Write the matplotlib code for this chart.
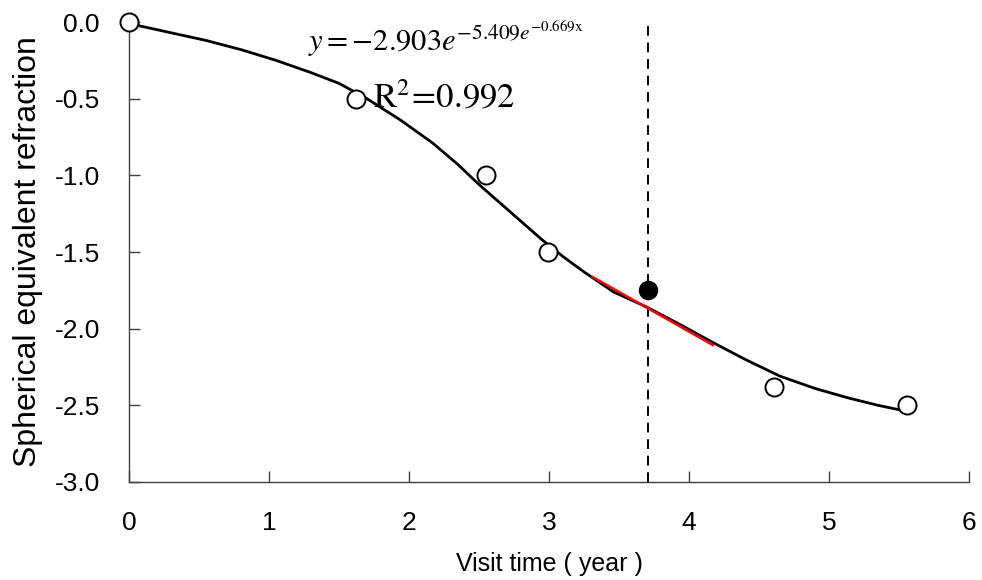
import numpy as np
import matplotlib
matplotlib.use('Agg')
import matplotlib.pyplot as plt

plt.rcParams['font.family'] = ['Liberation Sans', 'DejaVu Sans']
plt.rcParams['mathtext.fontset'] = 'stix'

# observed visits
visit_x = [0.0, 1.62, 2.55, 2.99, 4.61, 5.56]
visit_y = [0.0, -0.50, -1.00, -1.50, -2.38, -2.50]

# highlighted visit
mark_x = 3.71
mark_y = -1.75

# fitted curve
fit_x = [0.0, 0.3, 0.55, 0.8, 1.05, 1.3, 1.5, 1.7, 1.94, 2.17, 2.35, 2.5, 2.65, 2.8,
         2.95, 3.1, 3.25, 3.46, 3.70, 3.95, 4.17, 4.4, 4.65, 4.9, 5.13, 5.35, 5.56]
fit_y = [-0.01, -0.07, -0.12, -0.18, -0.25, -0.33, -0.40, -0.50, -0.64, -0.79, -0.93,
         -1.06, -1.18, -1.30, -1.42, -1.53, -1.63, -1.76, -1.86, -1.98, -2.09, -2.20,
         -2.31, -2.39, -2.45, -2.50, -2.54]

# tangent segment
tan_x = [3.31, 4.17]
tan_y = [-1.663, -2.107]

fig = plt.figure(figsize=(9.82, 5.8), dpi=100)
ax = fig.add_axes([0.1314, 0.169, 0.8554, 0.793])

ax.plot(fit_x, fit_y, color='black', lw=2, zorder=3, clip_on=False)
ax.plot(tan_x, tan_y, color='red', lw=1.8, zorder=4)
ax.plot([mark_x, mark_x], [-3.0, 0.0], color='black', lw=1.4, ls=(0, (5, 3.5)), zorder=2, clip_on=False)
ax.plot(visit_x, visit_y, 'o', mfc='white', mec='black', mew=1.4, ms=13, zorder=5, clip_on=False)
ax.plot([mark_x], [mark_y], 'o', color='black', ms=13, zorder=6)

ax.text(1.28, -0.196, r'$y=-2.903e^{-5.409e^{-0.669\mathrm{x}}}$', fontsize=22, va='baseline')
ax.text(1.74, -0.555, r'$\mathrm{R}^2\!=\!0.992$', fontsize=25, va='baseline')

ax.set_xlim(0, 6)
ax.set_ylim(-3.0, 0.0)
ax.set_xticks(range(0, 7))
ax.set_yticks(np.arange(-3.0, 0.01, 0.5))
ax.set_yticklabels(['%.1f' % t for t in np.arange(-3.0, 0.01, 0.5)])
ax.tick_params(direction='in', length=8, width=1, colors='#404040', labelcolor='black',
               labelsize=19, pad=21)
for side in ['top', 'right']:
    ax.spines[side].set_visible(False)
for side in ['left', 'bottom']:
    ax.spines[side].set_color('#404040')
    ax.spines[side].set_linewidth(1)

ax.set_xlabel('Visit time ( year )', fontsize=18, labelpad=12)
ax.set_ylabel('Spherical equivalent refraction', fontsize=23, labelpad=8)

plt.savefig('out.png', dpi=100)
